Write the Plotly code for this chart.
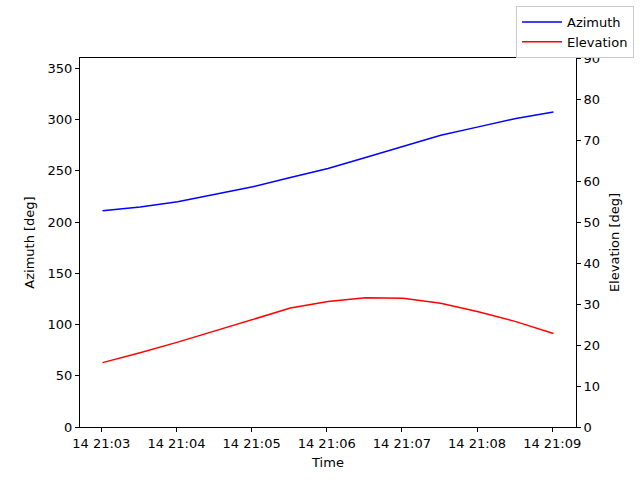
import pandas as pd
import plotly.graph_objects as go

# pass samples every 30 s
times = pd.date_range("2024-03-14 21:03:01", periods=13, freq="30s")
azimuth = [210.9, 214.7, 219.7, 226.8, 234.3, 243.4, 252.2, 263.0, 274.0, 284.7, 292.8, 301.0, 307.4]
elevation = [15.7, 18.1, 20.7, 23.5, 26.3, 29.0, 30.6, 31.5, 31.4, 30.2, 28.1, 25.7, 22.8]

tick_vals = pd.date_range("2024-03-14 21:03:00", periods=7, freq="1min")
tick_text = ["14 21:03", "14 21:04", "14 21:05", "14 21:06", "14 21:07", "14 21:08", "14 21:09"]

fig = go.Figure()
fig.add_trace(go.Scatter(x=times, y=azimuth, mode="lines", name="Azimuth",
                         line=dict(color="blue", width=1.5)))
fig.add_trace(go.Scatter(x=times, y=elevation, mode="lines", name="Elevation",
                         line=dict(color="red", width=1.5), yaxis="y2"))

axis_style = dict(showline=True, linecolor="black", linewidth=1, mirror=True,
                  ticks="outside", ticklen=4, tickcolor="black", showgrid=False,
                  zeroline=False, tickfont=dict(size=13, color="black"))

fig.update_layout(
    width=640, height=480,
    margin=dict(l=80, r=64, t=58, b=53, autoexpand=False),
    paper_bgcolor="white", plot_bgcolor="white",
    font=dict(family="DejaVu Sans", size=13, color="black"),
    xaxis=dict(axis_style, range=["2024-03-14 21:02:43", "2024-03-14 21:09:19"],
               tickvals=tick_vals, ticktext=tick_text,
               title=dict(text="Time", standoff=8, font=dict(size=13))),
    yaxis=dict(axis_style, range=[0, 360], dtick=50,
               title=dict(text="Azimuth [deg]", standoff=10, font=dict(size=13))),
    yaxis2=dict(axis_style, range=[0, 90], dtick=10, overlaying="y", side="right",
                title=dict(text="Elevation [deg]", standoff=10, font=dict(size=13))),
    legend=dict(x=1.117, y=1.141, xanchor="right", yanchor="top",
                bordercolor="#cccccc", borderwidth=1, bgcolor="white",
                font=dict(size=13), tracegroupgap=0, itemwidth=40),
    showlegend=True,
)

# drop the browser's default body margin so the figure sits at the page corner
fig.write_html("out.html", config={"displayModeBar": False},
               post_script="document.body.style.margin='0';")
